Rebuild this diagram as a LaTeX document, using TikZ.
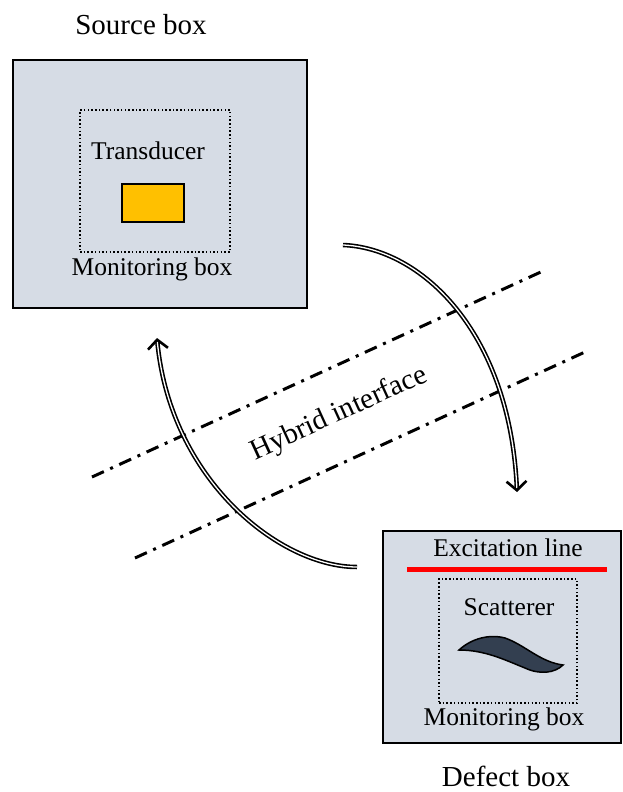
\documentclass[tikz,border=0pt]{standalone}
\usepackage{fontspec}
\setmainfont{Liberation Serif}
\definecolor{boxFill}{HTML}{D6DCE5}
\definecolor{transYellow}{HTML}{FFC000}
\definecolor{defectDark}{HTML}{333F50}
\definecolor{excRed}{HTML}{FF0000}
\usetikzlibrary{positioning,arrows.meta}

\begin{document}
\begin{tikzpicture}[x=1pt, y=-1pt, font=\fontsize{25.5}{30}\selectfont,
  outer/.style={draw=black, line width=1.8pt, fill=boxFill, inner sep=0pt},
  monitor/.style={draw=black, line width=1.5pt, dash pattern=on 1.5pt off 2.2pt, inner sep=0pt},
  heading/.style={font=\fontsize{29}{34}\selectfont},
  iface/.style={line width=3pt, dash pattern=on 13pt off 7pt on 3pt off 7pt},
  hop/.style={double=white, double distance=1.3pt, line width=1.6pt, -{Straight Barb[length=9pt, width=20pt, line width=2.6pt]}}]
\useasboundingbox (0,0) rectangle (622,792);
% source side
\node[outer, minimum width=294pt, minimum height=248pt] (src) at (160,184) {};
\node[monitor, minimum width=150pt, minimum height=142pt] (srcmon) at (155,181) {};
\node[draw=black, line width=1.5pt, fill=transYellow, minimum width=62pt, minimum height=38pt] (trans) at (153,203) {};
\node (transtxt) at (148,151) {Transducer};
\node (srcmontxt) at (152,269) {Monitoring box};
\node[heading] (srctxt) at (141,25) {Source box};
% defect side
\node[outer, minimum width=238pt, minimum height=212pt] (dfc) at (502,637) {};
\node[monitor, minimum width=138pt, minimum height=124pt] (dfcmon) at (508,641) {};
\node (exctxt) at (508,548) {Excitation line};
\coordinate (excL) at (407,569);
\coordinate (excR) at (607,569);
\draw[excRed, line width=5pt] (excL) -- (excR);
\node (scattxt) at (509,607) {Scatterer};
\draw[line width=1.5pt, fill=defectDark] (459,650) .. controls (472,638) and (490,634) .. (505,638)
  .. controls (525,645) and (540,662) .. (563,665)
  .. controls (555,673) and (540,675) .. (525,668)
  .. controls (505,660) and (485,650) .. cycle;
\node (dfcmontxt) at (504,719) {Monitoring box};
\node[heading] (dfctxt) at (506,776) {Defect box};
% hybrid interface
\coordinate (ifaceA1) at (92,477);
\coordinate (ifaceA2) at (543,271);
\coordinate (ifaceB1) at (135,558);
\coordinate (ifaceB2) at (585,352);
\draw[iface] (ifaceA1) -- (ifaceA2);
\draw[iface] (ifaceB1) -- (ifaceB2);
\node[rotate=24.5, font=\fontsize{29}{34}\selectfont] (ifacetxt) at (339,414) {Hybrid interface};
% transfer arrows
\coordinate (goS) at (343,245);
\coordinate (goE) at (517,492);
\coordinate (backS) at (357,567);
\coordinate (backE) at (157,338);
\draw[hop] (goS) .. controls (420,248) and (510,330) .. (goE);
\draw[hop] (backS) .. controls (280,567) and (170,480) .. (backE);
\end{tikzpicture}
\end{document}
